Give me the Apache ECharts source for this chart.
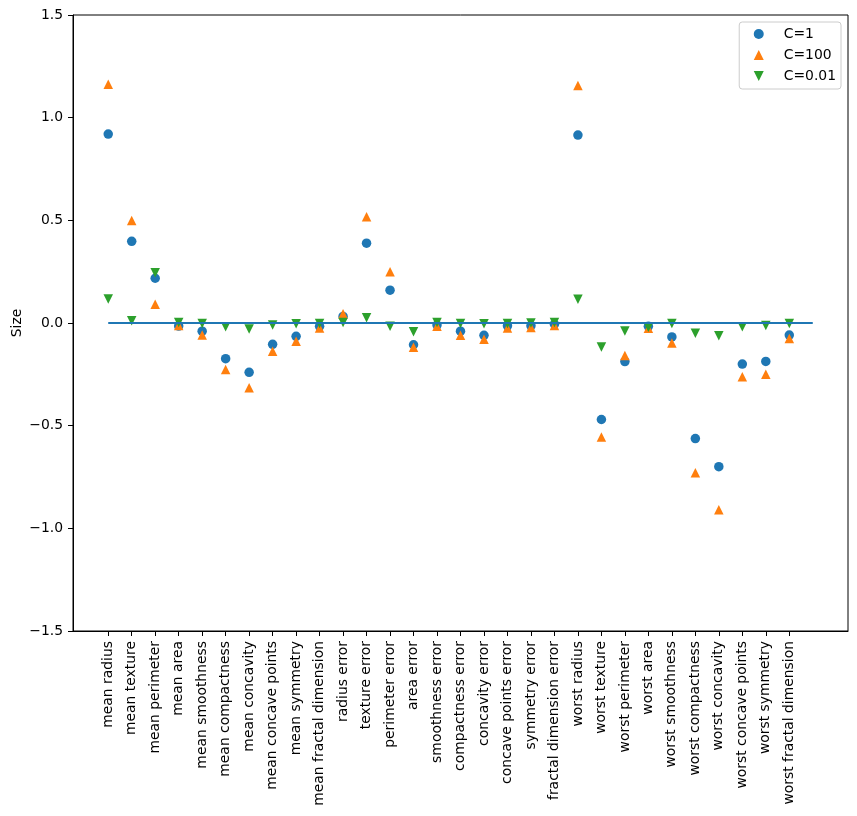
<!DOCTYPE html>
<html>
<head>
<meta charset="utf-8">
<script src="https://cdn.jsdelivr.net/npm/echarts@6/dist/echarts.min.js"></script>
<style>
html,body{margin:0;padding:0;background:#fff;}
#chart{width:857px;height:816px;}
</style>
</head>
<body>
<div id="chart"></div>
<script>
const features = ["mean radius","mean texture","mean perimeter","mean area","mean smoothness","mean compactness","mean concavity","mean concave points","mean symmetry","mean fractal dimension","radius error","texture error","perimeter error","area error","smoothness error","compactness error","concavity error","concave points error","symmetry error","fractal dimension error","worst radius","worst texture","worst perimeter","worst area","worst smoothness","worst compactness","worst concavity","worst concave points","worst symmetry","worst fractal dimension"];

const coefC1 = [0.920, 0.398, 0.218, -0.015, -0.040, -0.174, -0.240, -0.104, -0.065, -0.016, 0.032, 0.389, 0.160, -0.106, -0.010, -0.040, -0.060, -0.014, -0.014, -0.006, 0.915, -0.470, -0.188, -0.016, -0.068, -0.563, -0.700, -0.200, -0.187, -0.059];
const coefC100 = [1.163, 0.499, 0.091, -0.012, -0.058, -0.227, -0.315, -0.137, -0.089, -0.024, 0.045, 0.517, 0.250, -0.118, -0.016, -0.060, -0.079, -0.024, -0.022, -0.012, 1.157, -0.555, -0.158, -0.026, -0.097, -0.729, -0.910, -0.262, -0.249, -0.076];
const coefC001 = [0.117, 0.011, 0.245, 0.002, -0.003, -0.018, -0.029, -0.010, -0.004, -0.003, 0.003, 0.026, -0.016, -0.043, 0.002, -0.002, -0.004, -0.002, 0.000, 0.002, 0.116, -0.117, -0.039, -0.021, -0.003, -0.050, -0.062, -0.018, -0.012, -0.002];
const yTicks = [-1.5, -1.0, -0.5, 0.0, 0.5, 1.0, 1.5];
const zeroLineX = [0, features.length];

const font = 'DejaVu Sans';
const fs = 13.9;
const xIdx = features.map((_, i) => i);
const toPts = arr => arr.map((v, i) => [i, v]);
const downTriangle = 'path://M0,0 L10,0 L5,10 Z';

const chart = echarts.init(document.getElementById('chart'), null, {renderer: 'canvas'});
chart.setOption({
  animation: false,
  backgroundColor: '#fff',
  grid: {left: 73, right: 9, top: 15, bottom: 185, containLabel: false, outerBoundsMode: 'none',
         show: true, borderColor: '#000', borderWidth: 1, backgroundColor: 'transparent'},
  legend: {
    orient: 'vertical', right: 16, top: 22,
    data: [{name: 'C=1', icon: 'circle'}, {name: 'C=100', icon: 'triangle'}, {name: 'C=0.01', icon: downTriangle}],
    itemWidth: 10, itemHeight: 10, itemGap: 7,
    padding: [5, 5, 6, 14.5],
    borderColor: '#cccccc', borderWidth: 1, borderRadius: 3,
    backgroundColor: 'rgba(255,255,255,0.8)',
    textStyle: {fontFamily: font, fontSize: fs, color: '#000', lineHeight: 14, padding: [0, 0, 0, 15]}
  },
  xAxis: {
    type: 'value', min: -1.5, max: 31.5,
    splitLine: {show: false},
    axisLine: {show: true, onZero: false, lineStyle: {color: '#000', width: 1}},
    axisTick: {show: true, length: 5, customValues: xIdx, lineStyle: {color: '#000', width: 1}},
    axisLabel: {
      customValues: xIdx, rotate: 90, margin: 10,
      fontFamily: font, fontSize: fs, color: '#000',
      formatter: v => features[Math.round(v)]
    }
  },
  yAxis: {
    type: 'value', min: -1.5, max: 1.5, interval: 0.5,
    name: 'Size', nameLocation: 'middle', nameGap: 49, nameMoveOverlap: false,
    nameTextStyle: {fontFamily: font, fontSize: fs, color: '#000'},
    splitLine: {show: false},
    axisLine: {show: true, onZero: false, lineStyle: {color: '#000', width: 1}},
    axisTick: {show: true, length: 5, lineStyle: {color: '#000', width: 1}},
    axisLabel: {
      margin: 10, fontFamily: font, fontSize: fs, color: '#000',
      customValues: yTicks,
      formatter: v => v.toFixed(1).replace('-', '\u2212')
    }
  },
  series: [
    {name: 'C=1', type: 'scatter', symbol: 'circle', symbolSize: 9.5, data: toPts(coefC1), itemStyle: {color: '#1f77b4', opacity: 1}, z: 2},
    {name: 'C=100', type: 'scatter', symbol: 'triangle', symbolSize: 9.5, data: toPts(coefC100), itemStyle: {color: '#ff7f0e', opacity: 1}, z: 3},
    {name: 'C=0.01', type: 'scatter', symbol: 'triangle', symbolRotate: 180, symbolSize: 9.5, data: toPts(coefC001), itemStyle: {color: '#2ca02c', opacity: 1}, z: 4},
    {name: 'zero', type: 'line', data: zeroLineX.map(x => [x, 0]), symbol: 'none', lineStyle: {color: '#1f77b4', width: 2}, z: 5, silent: true}
  ]
});
</script>
</body>
</html>
